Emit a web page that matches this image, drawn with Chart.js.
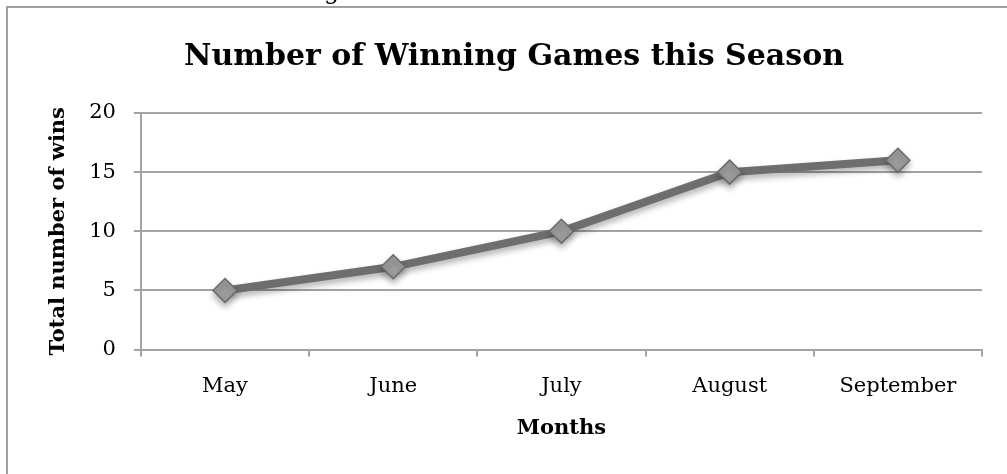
<!DOCTYPE html>
<html lang="en">
  <head>
    <meta charset="UTF-8" />
    <title>Number of Winning Games this Season</title>
    <script src="https://cdn.jsdelivr.net/npm/chart.js@4.4.1/dist/chart.umd.min.js"></script>
    <style>
      html, body { margin: 0; padding: 0; background: #fff; }
      #wrap { width: 1007px; height: 474px; }
    </style>
  </head>
  <body>
    <div id="wrap">
      <canvas id="myChart"></canvas>
    </div>

    <script>
      // 数据
      const months = ['May', 'June', 'July', 'August', 'September'];
      const wins = [5, 7, 10, 15, 16];
      const yTicks = [0, 5, 10, 15, 20];

      const serif = "'DejaVu Serif', 'Liberation Serif', serif";
      const gridGray = '#a3a3a3';

      // 外框 + 顶部被裁掉的文字
      const framePlugin = {
        id: 'frame',
        beforeDraw(chart) {
          const ctx = chart.ctx;
          ctx.save();
          ctx.fillStyle = '#fff';
          ctx.fillRect(0, 0, chart.width, chart.height);
          ctx.strokeStyle = '#a0a0a0';
          ctx.lineWidth = 2;
          ctx.strokeRect(7, 7, 1100, 600);
          ctx.fillStyle = '#000';
          ctx.font = "24px " + serif;
          ctx.textBaseline = 'alphabetic';
          ctx.fillText('g', 324, -1);
          ctx.restore();
        }
      };

      // 点的阴影
      const shadowPlugin = {
        id: 'shadow',
        beforeDatasetDraw(chart) {
          const ctx = chart.ctx;
          ctx.save();
          ctx.shadowColor = 'rgba(0,0,0,0.30)';
          ctx.shadowBlur = 6;
          ctx.shadowOffsetY = 4;
        },
        afterDatasetDraw(chart) {
          chart.ctx.restore();
        }
      };

      const config = {
        type: 'line',
        data: {
          labels: months,
          datasets: [{
            label: 'Wins',
            data: wins,
            fill: false,
            borderColor: '#6e6e6e',
            borderWidth: 8,
            tension: 0,
            pointStyle: 'rectRot',
            pointRadius: 12,
            pointHoverRadius: 12,
            pointBackgroundColor: '#9c9c9c',
            pointBorderColor: '#6a6a6a',
            pointBorderWidth: 1.5
          }]
        },
        options: {
          responsive: true,
          maintainAspectRatio: false,
          animation: false,
          layout: {
            padding: { left: 46, right: 25, top: 39, bottom: 33 }
          },
          scales: {
            x: {
              offset: true,
              grid: {
                offset: true,
                drawOnChartArea: false,
                drawTicks: true,
                tickLength: 7,
                color: gridGray,
                lineWidth: 2
              },
              border: { color: gridGray, width: 2 },
              ticks: {
                color: '#000',
                padding: 17,
                font: { family: serif, size: 21 }
              },
              title: {
                display: true,
                text: 'Months',
                color: '#000',
                padding: { top: 0, bottom: 0 },
                font: { family: serif, size: 21, weight: 'bold' }
              }
            },
            y: {
              min: 0,
              max: 20,
              afterBuildTicks(scale) {
                scale.ticks = yTicks.map(v => ({ value: v }));
              },
              grid: {
                color: gridGray,
                lineWidth: 2,
                tickLength: 7
              },
              border: { color: gridGray, width: 2 },
              ticks: {
                color: '#000',
                padding: 18,
                font: { family: serif, size: 21 }
              },
              title: {
                display: true,
                text: 'Total number of wins',
                color: '#000',
                padding: { top: 0, bottom: 0 },
                font: { family: serif, size: 21, weight: 'bold' }
              }
            }
          },
          plugins: {
            legend: { display: false },
            tooltip: { enabled: false },
            title: {
              display: true,
              text: 'Number of Winning Games this Season',
              color: '#000',
              padding: { top: 0, bottom: 38 },
              font: { family: serif, size: 30, weight: 'bold' }
            }
          }
        },
        plugins: [framePlugin, shadowPlugin]
      };

      const myChart = new Chart(document.getElementById('myChart'), config);
    </script>
  </body>
</html>
